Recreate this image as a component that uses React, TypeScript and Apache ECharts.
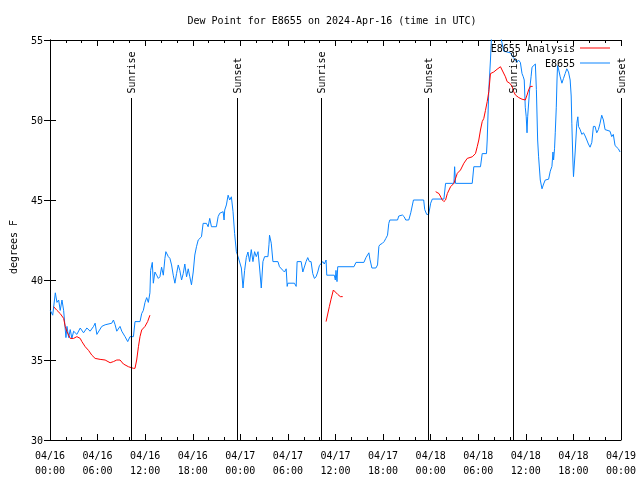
import React, { useEffect, useRef } from "react";
import * as echarts from "echarts";

// hours since 2024-04-16 00:00 UTC, dew point (°F)
const E8655: [number, number][] = [
  [0.04,38.1],[0.34,37.8],[0.67,39.2],[0.88,38.6],[1.09,38.75],[1.29,38.1],[1.51,38.75],[1.72,38.1],[2.01,36.4],[2.14,37.1],[2.35,36.4],[2.55,36.9],[2.76,36.35],[2.98,36.8],[3.39,36.6],[3.81,37.0],[4.23,36.7],[4.65,37.0],[5.06,36.8],[5.49,37.1],[5.69,37.3],[5.91,36.6],[6.53,37.1],[6.95,37.2],[7.79,37.3],[8.0,37.5],[8.21,37.2],[8.42,36.8],[8.83,37.1],[9.05,36.8],[9.46,36.46],[9.8,36.15],[10.09,36.46],[10.52,36.46],[10.72,37.4],[11.35,37.4],[11.56,37.9],[11.77,38.1],[11.98,38.6],[12.19,38.9],[12.4,38.6],[12.6,39.2],[12.69,40.6],[12.9,41.1],[13.03,39.8],[13.23,40.5],[13.45,40.3],[13.66,40.1],[13.86,40.2],[14.07,40.8],[14.29,40.3],[14.49,41.35],[14.61,41.77],[14.92,41.46],[15.12,41.35],[15.33,40.94],[15.54,40.3],[15.75,39.8],[15.96,40.4],[16.17,40.94],[16.37,40.6],[16.59,40.0],[16.8,40.4],[17.0,41.0],[17.22,40.2],[17.43,40.7],[17.63,40.2],[17.84,39.7],[18.06,40.5],[18.26,41.56],[18.47,42.08],[18.69,42.5],[19.1,42.7],[19.31,43.54],[19.73,43.54],[19.94,43.33],[20.14,43.85],[20.36,43.33],[20.98,43.33],[21.2,43.96],[21.4,44.17],[21.83,44.27],[21.95,43.75],[22.03,44.375],[22.24,44.69],[22.46,45.3],[22.66,45.0],[22.87,45.2],[23.08,44.27],[23.28,42.9],[23.5,41.77],[23.71,41.46],[24.13,40.75],[24.34,39.5],[24.54,40.6],[24.75,41.4],[24.96,41.75],[25.17,41.15],[25.38,41.9],[25.59,41.15],[25.8,41.77],[26.01,41.46],[26.23,41.77],[26.43,40.75],[26.64,39.5],[26.85,41.15],[27.06,41.46],[27.48,41.46],[27.61,42.2],[27.68,42.8],[27.9,42.3],[28.11,41.15],[28.74,41.15],[28.94,40.83],[29.37,40.6],[29.57,40.5],[29.78,40.7],[29.91,39.6],[29.99,39.8],[30.82,39.8],[31.04,39.6],[31.16,41.15],[31.67,41.15],[31.88,40.5],[32.29,41.15],[32.5,41.4],[32.71,41.15],[32.92,41.15],[33.13,40.4],[33.34,40.1],[33.55,40.2],[33.76,40.5],[33.97,40.9],[34.39,41.15],[34.59,41.0],[34.81,41.25],[34.9,40.3],[35.85,40.3],[35.98,40.0],[36.06,40.6],[36.19,39.9],[36.28,40.83],[38.33,40.83],[38.58,41.1],[39.58,41.1],[39.84,41.4],[40.21,41.7],[40.34,41.3],[40.59,40.75],[41.09,40.75],[41.3,40.94],[41.47,42.1],[41.59,42.2],[41.93,42.3],[42.13,42.4],[42.35,42.6],[42.56,42.8],[42.72,43.54],[42.85,43.75],[43.82,43.75],[43.98,44.0],[44.44,44.06],[44.65,43.96],[44.86,43.75],[45.24,43.75],[45.49,44.2],[45.83,45.0],[47.12,45.0],[47.25,44.4],[47.5,44.1],[47.75,44.1],[48.0,44.8],[48.21,45.06],[49.67,45.06],[49.88,46.04],[50.93,46.04],[51.02,47.08],[51.14,46.04],[53.24,46.04],[53.44,47.08],[54.28,47.08],[54.5,47.9],[55.04,47.9],[55.13,48.75],[55.33,51.9],[55.54,53.75],[55.67,55.2],[55.92,56.0],[56.67,56.0],[56.92,55.0],[57.21,54.3],[58.05,54.2],[58.43,53.9],[58.89,53.6],[59.06,53.75],[59.31,53.6],[59.52,52.9],[59.68,52.7],[59.8,52.5],[59.93,50.8],[60.05,50.2],[60.15,49.2],[60.23,50.2],[60.48,51.9],[60.66,52.7],[60.78,53.3],[61.2,53.5],[61.33,51.9],[61.49,48.75],[61.61,47.7],[61.82,46.25],[62.04,45.7],[62.24,46.0],[62.45,46.25],[62.87,46.3],[63.08,46.8],[63.29,47.1],[63.42,48.0],[63.5,47.5],[63.62,48.2],[63.71,49.2],[63.84,50.8],[63.93,52.5],[64.0,53.4],[64.12,53.2],[64.33,52.7],[64.55,52.3],[64.75,52.6],[64.96,52.9],[65.17,53.2],[65.38,53.0],[65.59,52.5],[65.72,51.5],[65.8,49.8],[65.93,47.5],[66.01,46.46],[66.22,48.0],[66.43,49.8],[66.56,50.2],[66.64,49.6],[66.85,49.4],[67.06,49.1],[67.27,49.2],[67.48,49.0],[67.69,48.75],[67.89,48.5],[68.1,48.3],[68.32,48.6],[68.52,49.6],[68.73,49.6],[68.94,49.2],[69.15,49.4],[69.36,49.8],[69.57,50.3],[69.78,50.0],[69.99,49.4],[70.61,49.3],[70.83,48.96],[71.03,49.1],[71.25,48.4],[71.67,48.2],[71.88,48.0]
];

const ANALYSIS_1: [number, number][] = [
  [0.46,38.33],[0.88,38.1],[1.29,37.9],[1.72,37.6],[1.92,37.1],[2.14,36.77],[2.55,36.35],[2.98,36.35],[3.39,36.46],[3.81,36.35],[4.02,36.15],[4.44,35.83],[4.86,35.6],[5.28,35.3],[5.69,35.1],[6.32,35.04],[6.95,35.0],[7.58,34.83],[8.0,34.9],[8.42,35.0],[8.83,35.0],[9.26,34.75],[9.89,34.58],[10.52,34.48],[10.72,34.48],[10.93,35.0],[11.15,35.83],[11.35,36.46],[11.56,36.875],[11.98,37.1],[12.31,37.4],[12.6,37.8]
];
const ANALYSIS_2: [number, number][] = [
  [34.81,37.4],[35.22,38.33],[35.44,38.8],[35.73,39.375],[36.28,39.1],[36.61,38.96],[36.91,38.96]
];
const ANALYSIS_3: [number, number][] = [
  [48.63,45.52],[49.05,45.4],[49.47,45.0],[49.67,44.9],[49.88,45.0],[50.1,45.4],[50.51,45.83],[50.93,46.04],[51.36,46.67],[51.76,46.875],[52.19,47.3],[52.61,47.6],[53.24,47.7],[53.65,47.9],[53.87,48.33],[54.07,48.75],[54.28,49.375],[54.5,49.9],[54.7,50.1],[54.91,50.6],[55.13,51.15],[55.33,51.77],[55.54,52.9],[55.95,53.0],[56.37,53.17],[56.8,53.33],[57.13,53.0],[57.43,52.7],[57.64,52.4],[57.97,52.3],[58.27,52.1],[58.47,51.77],[58.69,51.56],[59.11,51.4],[59.52,51.3],[59.93,51.25],[60.15,51.56],[60.35,51.875],[60.56,52.1],[60.86,52.1]
];

const SUN_TIMES = [10.18, 23.57, 34.19, 47.69, 58.37, 71.95];
const SUN_LABELS = ["Sunrise", "Sunset", "Sunrise", "Sunset", "Sunrise", "Sunset"];
const Y_TICKS = { min: 30, max: 55, interval: 5 };
const X_TICKS = { min: 0, max: 72, interval: 6 };

const FONT = "DejaVu Sans Mono";
const RED = "#ff0000";
const BLUE = "#0a84ff";

function xLabel(h: number): string {
  const day = 16 + Math.floor(h / 24);
  const hh = Math.round(h % 24);
  const p = (n: number) => (n < 10 ? "0" + n : "" + n);
  return "04/" + p(day) + "\n" + p(hh) + ":00";
}

export default function App() {
  const ref = useRef<HTMLDivElement>(null);
  useEffect(() => {
    if (!ref.current) return;
    const chart = echarts.init(ref.current, null, { renderer: "svg" });
    const analysis: any[] = [
      ...ANALYSIS_1,
      [ANALYSIS_1[ANALYSIS_1.length - 1][0] + 0.01, null],
      ...ANALYSIS_2,
      [ANALYSIS_2[ANALYSIS_2.length - 1][0] + 0.01, null],
      ...ANALYSIS_3,
    ];
    const axisCommon = {
      axisLine: { show: true, lineStyle: { color: "#000", width: 1 } },
      splitLine: { show: false },
    };
    const tick = { show: true, inside: true, length: 6, lineStyle: { color: "#000" } };
    const minor = { show: true, splitNumber: 3, length: 3, lineStyle: { color: "#000" } };
    chart.setOption({
      animation: false,
      textStyle: { fontFamily: FONT, fontSize: 10, color: "#000" },
      title: {
        text: "Dew Point for E8655 on 2024-Apr-16 (time in UTC)",
        left: 332,
        textAlign: "center",
        top: 15,
        padding: 0,
        textStyle: { fontFamily: FONT, fontSize: 10, fontWeight: "normal", color: "#000" },
      },
      legend: {
        orient: "vertical",
        right: 30,
        top: 43,
        align: "right",
        icon: "rect",
        itemWidth: 30,
        itemHeight: 1,
        itemGap: 5,
        padding: 0,
        textStyle: { fontFamily: FONT, fontSize: 10, color: "#000" },
        data: [
          { name: "E8655 Analysis", itemStyle: { color: RED } },
          { name: "E8655", itemStyle: { color: BLUE } },
        ],
      },
      grid: { left: 47, right: 19, top: 40, bottom: 40, containLabel: false },
      xAxis: [
        {
          type: "value",
          ...X_TICKS,
          ...axisCommon,
          axisTick: tick,
          minorTick: minor,
          minorSplitLine: { show: false },
          axisLabel: { formatter: xLabel, margin: 8, lineHeight: 15, color: "#000", fontFamily: FONT, fontSize: 10, showMinLabel: true, showMaxLabel: true },
        },
        {
          type: "value",
          position: "top",
          ...X_TICKS,
          ...axisCommon,
          axisTick: tick,
          minorTick: minor,
          minorSplitLine: { show: false },
          axisLabel: { show: false },
        },
      ],
      yAxis: [
        {
          type: "value",
          ...Y_TICKS,
          ...axisCommon,
          name: "degrees F",
          nameLocation: "middle",
          nameGap: 32,
          nameTextStyle: { fontFamily: FONT, fontSize: 10, color: "#000", padding: [0, 14, 0, 0] },
          axisTick: tick,
          axisLabel: { margin: 7, color: "#000", fontFamily: FONT, fontSize: 10 },
        },
        {
          type: "value",
          position: "right",
          ...Y_TICKS,
          ...axisCommon,
          axisTick: tick,
          axisLabel: { show: false },
        },
      ],
      series: [
        {
          name: "E8655 Analysis",
          type: "line",
          data: analysis,
          symbol: "none",
          showSymbol: false,
          connectNulls: false,
          lineStyle: { color: RED, width: 1 },
          itemStyle: { color: RED },
          z: 3,
        },
        {
          name: "E8655",
          type: "line",
          data: E8655,
          symbol: "none",
          showSymbol: false,
          lineStyle: { color: BLUE, width: 1 },
          itemStyle: { color: BLUE },
          z: 2,
        },
        {
          name: "sun",
          type: "custom",
          data: SUN_TIMES.map((t) => [t]),
          clip: false,
          z: 4,
          renderItem: (params: any, api: any) => {
            const t = api.value(0);
            const b = api.coord([t, Y_TICKS.min]);
            const top = api.coord([t, 51.4]);
            const x = Math.round(b[0]) + 0.5;
            return {
              type: "group",
              children: [
                {
                  type: "line",
                  shape: { x1: x, y1: b[1], x2: x, y2: Math.round(top[1]) },
                  style: { stroke: "#000", lineWidth: 1 },
                },
                {
                  type: "text",
                  x: x,
                  y: top[1] - 4,
                  rotation: Math.PI / 2,
                  style: {
                    text: SUN_LABELS[params.dataIndex],
                    fill: "#000",
                    font: "10px " + FONT,
                    align: "left",
                    verticalAlign: "middle",
                  },
                },
              ],
            };
          },
        },
      ],
    });
    return () => chart.dispose();
  }, []);
  return <div ref={ref} style={{ position: "fixed", left: 0, top: 0, width: 640, height: 480 }} />;
}
